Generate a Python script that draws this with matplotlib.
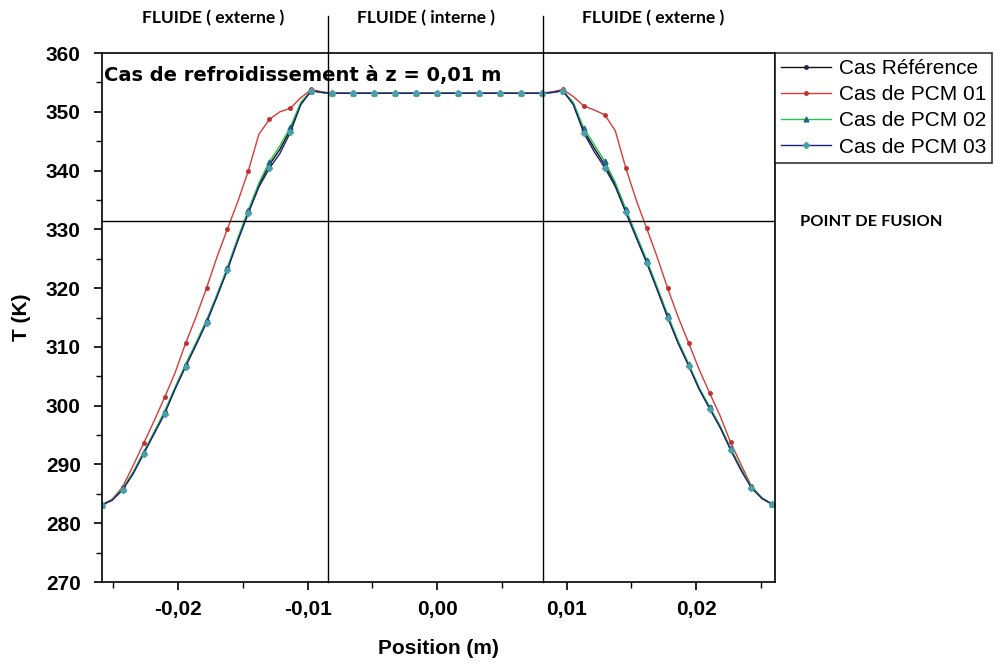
import numpy as np
import matplotlib
matplotlib.use("Agg")
import matplotlib.pyplot as plt
from matplotlib.ticker import MultipleLocator, FuncFormatter

# ---------------- data ----------------
position = np.linspace(-0.0259, 0.0259, 65)

flat = [353.15] * 21

ref_left = [283.1, 284.0, 285.8, 288.6, 292.0, 295.4, 298.9, 303.0, 306.9, 310.6, 314.4,
            318.8, 323.4, 328.4, 333.1, 337.6, 341.0, 343.6, 347.0, 351.5, 353.6, 353.3]
ref_right = [353.3, 353.6, 351.4, 346.8, 343.8, 341.0, 337.7, 333.3, 328.9, 324.6, 320.0,
             315.3, 310.9, 307.0, 303.0, 299.7, 296.5, 292.7, 289.2, 286.1, 284.3, 283.2]

pcm01_left = [283.1, 284.1, 286.2, 289.8, 293.6, 297.4, 301.4, 305.6, 310.6, 315.1, 320.0,
              325.3, 330.1, 334.8, 340.0, 346.2, 348.7, 350.0, 350.6, 352.4, 353.8, 353.4]
pcm01_right = [353.4, 353.8, 352.6, 351.0, 350.3, 349.5, 346.8, 340.5, 335.0, 330.2, 325.3,
               320.0, 315.1, 310.7, 306.2, 302.2, 298.3, 293.8, 290.0, 286.3, 284.3, 283.2]

pcm02_left = [283.1, 284.0, 285.9, 288.7, 292.1, 295.5, 299.0, 303.1, 307.0, 310.7, 314.5,
              318.9, 323.5, 328.6, 333.3, 337.9, 341.5, 344.2, 347.4, 351.6, 353.6, 353.3]
pcm02_right = [353.3, 353.6, 351.6, 347.2, 344.4, 341.6, 338.0, 333.5, 329.1, 324.8, 320.2,
               315.5, 311.0, 307.1, 303.1, 299.8, 296.6, 292.8, 289.3, 286.2, 284.3, 283.2]

pcm03_left = [283.1, 283.9, 285.7, 288.4, 291.8, 295.2, 298.6, 302.8, 306.6, 310.3, 314.1,
              318.5, 323.1, 328.1, 332.8, 337.2, 340.4, 342.9, 346.5, 351.2, 353.6, 353.3]
pcm03_right = [353.3, 353.6, 351.2, 346.4, 343.2, 340.5, 337.3, 332.9, 328.6, 324.3, 319.7,
               315.0, 310.6, 306.8, 302.8, 299.5, 296.3, 292.5, 289.0, 286.0, 284.2, 283.2]

series_names = ["Cas Référence", "Cas de PCM 01", "Cas de PCM 02", "Cas de PCM 03"]
T_ref = ref_left + flat + ref_right
T_pcm01 = pcm01_left + flat + pcm01_right
T_pcm02 = pcm02_left + flat + pcm02_right
T_pcm03 = pcm03_left + flat + pcm03_right

fusion_T = 331.5
interface_x = [-0.0084, 0.0082]
zone_labels = ["FLUIDE ( externe )", "FLUIDE ( interne )", "FLUIDE ( externe )"]

# ---------------- figure ----------------
fig = plt.figure(figsize=(10.03, 6.68), dpi=100)
ax = fig.add_axes([0.1014, 0.1287, 0.6713, 0.7919])

styles = [
    dict(color="#111111", marker="o", ms=2.5, mfc="#222244", mec="#222244"),
    dict(color="#d83a3a", marker="o", ms=2.5, mfc="#c03030", mec="#c03030"),
    dict(color="#20c84a", marker="^", ms=3.5, mfc="#1e6a80", mec="#1e6a80"),
    dict(color="#1c1f78", marker="D", ms=3.2, mfc="#4aa0a8", mec="#4aa0a8"),
]
for name, T, st in zip(series_names, [T_ref, T_pcm01, T_pcm02, T_pcm03], styles):
    ax.plot(position, T, lw=1.0, markevery=2, label=name, **st)

ax.set_xlim(-0.0259, 0.0261)
ax.set_ylim(270, 360)

ax.axhline(fusion_T, color="black", lw=1.0)
for xv in interface_x:
    ax.axvline(xv, ymin=0, ymax=1.07, color="black", lw=1.0, clip_on=False)

ax.xaxis.set_major_locator(MultipleLocator(0.01))
ax.xaxis.set_minor_locator(MultipleLocator(0.005))
ax.yaxis.set_major_locator(MultipleLocator(10))
ax.yaxis.set_minor_locator(MultipleLocator(5))
ax.xaxis.set_major_formatter(FuncFormatter(lambda v, p: f"{v:.2f}".replace(".", ",").replace("-0,00", "0,00")))
ax.yaxis.set_major_formatter(FuncFormatter(lambda v, p: f"{v:.0f}"))

ax.tick_params(axis="both", which="major", direction="out", length=6, width=1.2,
               labelsize=15, pad=7)
ax.tick_params(axis="y", which="major", pad=9)
ax.tick_params(axis="both", which="minor", direction="out", length=4, width=1.0)
ax.tick_params(top=False, right=False, which="both")
for lab in ax.get_xticklabels() + ax.get_yticklabels():
    lab.set_fontfamily("Liberation Sans")
    lab.set_fontweight("bold")
for sp in ax.spines.values():
    sp.set_linewidth(1.2)

ax.set_xlabel("Position (m)", fontsize=15, fontweight="bold", family="Liberation Sans", labelpad=14)
ax.set_ylabel("T (K)", fontsize=15, fontweight="bold", family="Liberation Sans", labelpad=11)

ax.text(0.004, 0.975, "Cas de refroidissement à z = 0,01 m", transform=ax.transAxes,
        ha="left", va="top", fontsize=14, fontweight="bold", family="DejaVu Sans")

leg = ax.legend(loc="upper left", bbox_to_anchor=(1.0, 1.0), borderaxespad=0,
                frameon=True, fancybox=False, edgecolor="black",
                handlelength=2.4, handletextpad=0.35, labelspacing=0.34,
                borderpad=0.3, prop={"family": "Liberation Sans", "size": 15})
leg.get_frame().set_linewidth(1.2)

for lbl, xf in zip(zone_labels, [213 / 1003, 426 / 1003, 653 / 1003]):
    fig.text(xf, 1 - 18 / 668, lbl, ha="center", va="center", fontsize=12.5,
             fontweight="bold", family="Lato")
fig.text(800 / 1003, 1 - 222 / 668, "POINT DE FUSION", ha="left", va="center",
         fontsize=11.8, fontweight="bold", family="Lato")

fig.savefig("out.png", dpi=100)
